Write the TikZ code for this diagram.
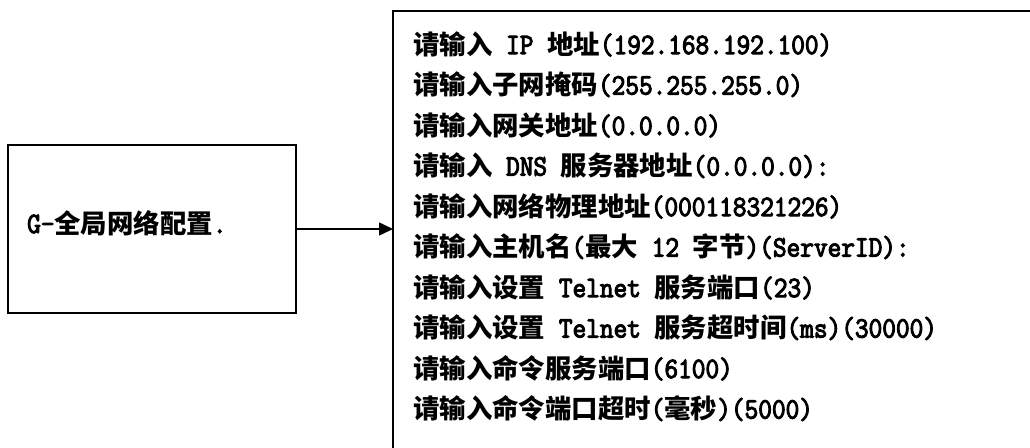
\documentclass[tikz,border=0pt]{standalone}
\usepackage{fontspec}
\usetikzlibrary{arrows.meta}
\newfontfamily\cjk{Noto Sans CJK SC}
\newfontfamily\lat[FakeBold=3.5,FakeStretch=0.9]{Latin Modern Mono}
\newcommand{\La}[1]{{\lat\fontsize{29.5}{29.5}\selectfont #1}}
\tikzset{
  txt/.style={anchor=base west, inner sep=0pt, font=\cjk\bfseries\fontsize{26.4}{26.4}\selectfont},
  boxs/.style={draw, line width=1.5pt, inner sep=0pt, outer sep=0pt},
  conn/.style={line width=1.5pt, -{Triangle[length=14pt,width=13pt]}},
}
\begin{document}
\begin{tikzpicture}[x=1pt,y=-1pt]
\useasboundingbox (0,0) rectangle (1030,447);
\node[boxs, anchor=north west, minimum width=288pt, minimum height=168pt] (g) at (8,145) {};
\node[txt] (gl) at (27,233) {\La{G-}全局网络配置\La{.}};
\node[boxs, anchor=north west, minimum width=700pt, minimum height=480pt] (cfg) at (393,11) {};
\draw[conn] (g.east) -- (cfg.west |- g.east);
\node[txt] (l1) at (413,54) {请输入\La{ IP }地址\La{(192.168.192.100)}};
\node[txt] (l2) at (413,94.5) {请输入子网掩码\La{(255.255.255.0)}};
\node[txt] (l3) at (413,135) {请输入网关地址\La{(0.0.0.0)}};
\node[txt] (l4) at (413,175.5) {请输入\La{ DNS }服务器地址\La{(0.0.0.0):}};
\node[txt] (l5) at (413,216) {请输入网络物理地址\La{(000118321226)}};
\node[txt] (l6) at (413,256.5) {请输入主机名\La{(}最大\La{ 12 }字节\La{)(ServerID):}};
\node[txt] (l7) at (413,297) {请输入设置\La{ Telnet }服务端口\La{(23)}};
\node[txt] (l8) at (413,337.5) {请输入设置\La{ Telnet }服务超时间\La{(ms)(30000)}};
\node[txt] (l9) at (413,378) {请输入命令服务端口\La{(6100)}};
\node[txt] (l10) at (413,418.5) {请输入命令端口超时\La{(}毫秒\La{)(5000)}};
\end{tikzpicture}
\end{document}
